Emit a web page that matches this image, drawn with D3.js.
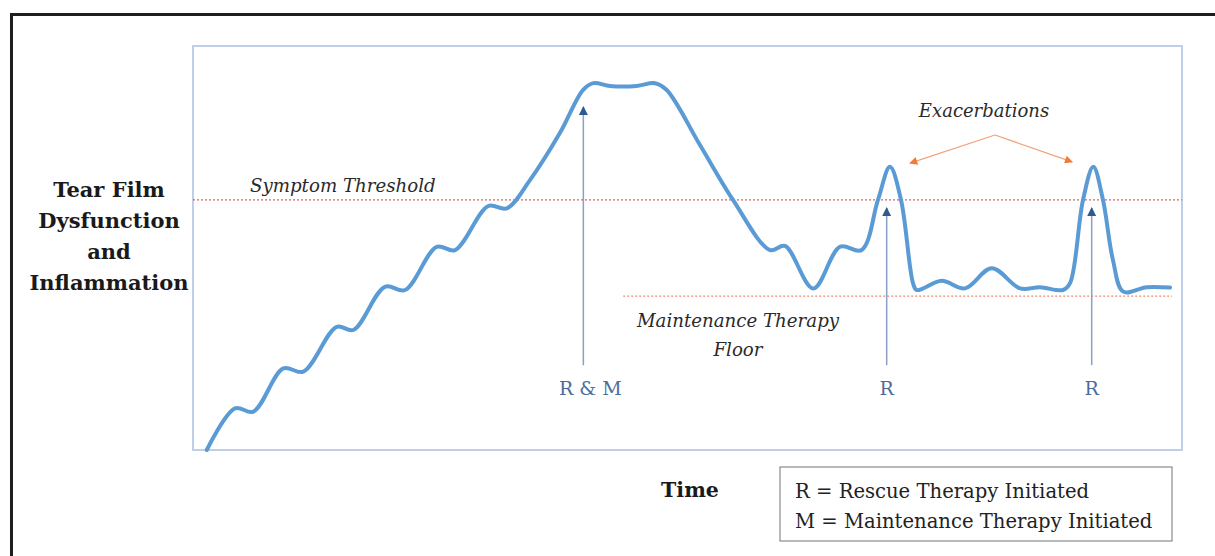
<!DOCTYPE html>
<html>
<head>
<meta charset="utf-8">
<script src="https://cdn.jsdelivr.net/npm/d3@7/dist/d3.min.js"></script>
<style>
html,body{margin:0;padding:0;background:#fff;}
svg{display:block;}
</style>
</head>
<body>
<svg id="chart" width="1215" height="556"></svg>
<script>
// ---- data (time on 0-100 scale, level on 0-100 scale) ----
const timeValues  = [1.39, 4.25, 6.10, 9.13, 11.15, 14.53, 16.21, 19.41, 21.44, 24.64, 26.49, 29.86, 31.72, 34.07, 37.11, 39.43, 40.48, 42.16, 44.86, 46.71, 47.9, 51.26, 54.6, 58.34, 59.86, 62.72, 65.42, 67.61, 69.26, 70.47, 71.59, 72.8, 73.17, 75.70, 78.06, 80.76, 83.62, 85.64, 87.97, 88.68, 89.99, 91.03, 92.01, 93.02, 94.06, 96.43, 98.79];
const levelValues = [0, 10.3, 9.5, 20.2, 19.4, 30.5, 29.7, 40.4, 39.6, 50.3, 49.5, 60.4, 59.8, 66.8, 78.5, 89.1, 90.8, 90.1, 90.1, 90.8, 89.1, 75.5, 61.9, 49.5, 50.5, 40.0, 50.3, 49.5, 61.9, 70.1, 61.9, 41.3, 39.6, 41.9, 40.0, 45.0, 40.0, 40.3, 39.6, 41.3, 61.9, 70.1, 61.9, 47.0, 39.2, 40.3, 40.2];

const thresholdLevel = 61.9;
const floorLevel = 38.1;
const floorStart = 43.5, floorEnd = 99.0;

const therapyTimes     = [39.47, 70.14, 90.87];
const therapyLabels    = ["R & M", "R", "R"];
const therapyTipLevels = [84.9, 59.9, 59.9];
const therapyBaseLevel = 21;

const exacApex = [81.09, 77.97];
const exacTargets = [[72.5, 71.0], [88.9, 71.3]];

const yLabelLines = ["Tear Film", "Dysfunction", "and", "Inflammation"];
const legendLines = ["R = Rescue Therapy Initiated", "M = Maintenance Therapy Initiated"];

// ---- layout ----
const svg = d3.select("#chart");
const plot = {left:193, right:1182, top:46, bottom:450};
const x = d3.scaleLinear().domain([0,100]).range([plot.left, plot.right]);
const y = d3.scaleLinear().domain([0,100]).range([plot.bottom, plot.top]);
const serif = "'DejaVu Serif', 'Liberation Serif', serif";

// outer black frame (cropped)
svg.append("path").attr("d","M11.5,556 V14.5 H1215")
  .attr("fill","none").attr("stroke","#1e1e1e").attr("stroke-width",3);

// plot area border
svg.append("rect").attr("x",plot.left).attr("y",plot.top)
  .attr("width",plot.right-plot.left).attr("height",plot.bottom-plot.top)
  .attr("fill","#fff").attr("stroke","#bfcfe8").attr("stroke-width",2);

const defs = svg.append("defs");
defs.append("marker").attr("id","blueHead").attr("viewBox","0 0 10 10")
  .attr("refX",9).attr("refY",5).attr("markerWidth",10).attr("markerHeight",9)
  .attr("markerUnits","userSpaceOnUse").attr("orient","auto")
  .append("path").attr("d","M0,0 L10,5 L0,10 Z").attr("fill","#2e5a8e");
defs.append("marker").attr("id","orangeHead").attr("viewBox","0 0 10 10")
  .attr("refX",9).attr("refY",5).attr("markerWidth",10).attr("markerHeight",8)
  .attr("markerUnits","userSpaceOnUse").attr("orient","auto")
  .append("path").attr("d","M0,0 L10,5 L0,10 Z").attr("fill","#ee7b3a");

// threshold line
svg.append("line").attr("x1",x(0)).attr("x2",x(100))
  .attr("y1",y(thresholdLevel)).attr("y2",y(thresholdLevel))
  .attr("stroke","#e0605a").attr("stroke-width",1.4).attr("stroke-dasharray","2,2");
// floor line
svg.append("line").attr("x1",x(floorStart)).attr("x2",x(floorEnd))
  .attr("y1",y(floorLevel)).attr("y2",y(floorLevel))
  .attr("stroke","#ef8a6a").attr("stroke-width",1.4).attr("stroke-dasharray","2,2");

// therapy arrows
therapyTimes.forEach((t,i)=>{
  svg.append("line").attr("x1",x(t)).attr("x2",x(t))
    .attr("y1",y(therapyBaseLevel)).attr("y2",y(therapyTipLevels[i]))
    .attr("stroke","#8c9fc4").attr("stroke-width",1.5)
    .attr("marker-end","url(#blueHead)");
  svg.append("text").attr("x",x(t) + (i===0?7:0)).attr("y",395)
    .attr("text-anchor","middle").attr("font-family",serif).attr("font-size",19)
    .attr("fill","#4d6c9e").text(therapyLabels[i]);
});

// curve
const line = d3.line().x((d,i)=>x(timeValues[i])).y(d=>y(d)).curve(d3.curveCatmullRom.alpha(0.5));
svg.append("path").attr("d", line(levelValues))
  .attr("fill","none").attr("stroke","#5b9bd5").attr("stroke-width",4)
  .attr("stroke-linejoin","round").attr("stroke-linecap","round");

// exacerbation arrows
exacTargets.forEach(tg=>{
  svg.append("line").attr("x1",x(exacApex[0])).attr("y1",y(exacApex[1]))
    .attr("x2",x(tg[0])).attr("y2",y(tg[1]))
    .attr("stroke","#f2a27a").attr("stroke-width",1.3)
    .attr("marker-end","url(#orangeHead)");
});
svg.append("text").attr("x",984).attr("y",117).attr("text-anchor","middle")
  .attr("font-family",serif).attr("font-style","italic").attr("font-size",18)
  .attr("fill","#2a2a2a").text("Exacerbations");

// annotations
svg.append("text").attr("x",250).attr("y",192)
  .attr("font-family",serif).attr("font-style","italic").attr("font-size",18.2)
  .attr("fill","#2a2a2a").text("Symptom Threshold");
svg.append("text").attr("x",738).attr("y",327).attr("text-anchor","middle")
  .attr("font-family",serif).attr("font-style","italic").attr("font-size",18.2)
  .attr("fill","#2a2a2a").text("Maintenance Therapy");
svg.append("text").attr("x",738).attr("y",356).attr("text-anchor","middle")
  .attr("font-family",serif).attr("font-style","italic").attr("font-size",18.2)
  .attr("fill","#2a2a2a").text("Floor");

// y label
yLabelLines.forEach((s,i)=>{
  svg.append("text").attr("x",109).attr("y",197 + i*31).attr("text-anchor","middle")
    .attr("font-family",serif).attr("font-weight","bold").attr("font-size",21)
    .attr("fill","#1a1a1a").text(s);
});

// x label
svg.append("text").attr("x",690).attr("y",497).attr("text-anchor","middle")
  .attr("font-family",serif).attr("font-weight","bold").attr("font-size",20.5)
  .attr("fill","#1a1a1a").text("Time");

// legend
svg.append("rect").attr("x",780).attr("y",467).attr("width",392).attr("height",74)
  .attr("fill","#fff").attr("stroke","#8a8a8a").attr("stroke-width",1.2);
legendLines.forEach((s,i)=>{
  svg.append("text").attr("x",795).attr("y",498 + i*30)
    .attr("font-family",serif).attr("font-size",19.6).attr("fill","#222").text(s);
});
</script>
</body>
</html>
